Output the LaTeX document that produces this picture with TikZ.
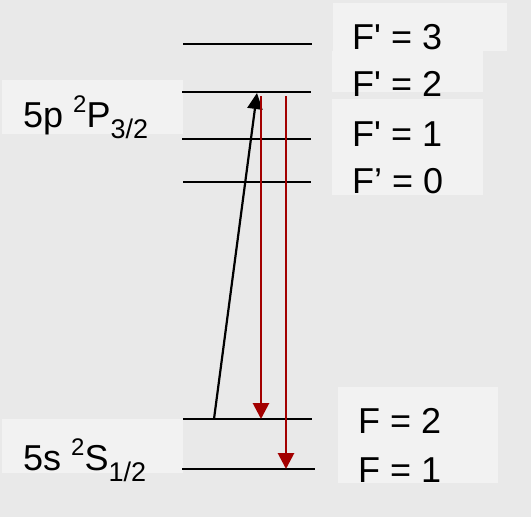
\documentclass[tikz,border=0pt]{standalone}
\usepackage{fontspec}
\newfontfamily\arial{Liberation Sans}
\usetikzlibrary{arrows.meta}
\definecolor{bgray}{RGB}{233,233,233}
\definecolor{boxw}{RGB}{242,242,242}
\definecolor{dred}{RGB}{163,0,0}
\newcommand{\supx}[1]{\raisebox{15pt}{\fontsize{24}{25}\selectfont #1}}
\newcommand{\subx}[1]{\raisebox{-11pt}{\fontsize{27}{28}\selectfont #1}}
\tikzset{
  lbl/.style={anchor=base west, inner sep=0pt, font=\arial\fontsize{36}{40}\selectfont, text=black},
  labelbox/.style={fill=boxw, draw=none},
  level/.style={line width=2.2pt, black},
  pump/.style={line width=2.2pt, black, -{Triangle[width=15pt,length=16pt]}},
  decay/.style={line width=2.8pt, dred, -{Triangle[width=16pt,length=16pt]}}
}
\begin{document}
\begin{tikzpicture}[x=1pt,y=-1pt]
\fill[bgray] (0,0) rectangle (531,517);
\useasboundingbox (0,0) rectangle (531,517);
% label boxes
\fill[labelbox] (333,3) rectangle (507,51);
\fill[labelbox] (332,51) rectangle (483,92);
\fill[labelbox] (332,99) rectangle (483,195);
\fill[labelbox] (2,80) rectangle (183,134);
\fill[labelbox] (2,419) rectangle (183,473);
\fill[labelbox] (338,387) rectangle (498,483);
% level coordinates
\coordinate (p3a) at (183,44);  \coordinate (p3b) at (312,44);
\coordinate (p2a) at (182,92);  \coordinate (p2b) at (311,92);
\coordinate (p1a) at (182,139); \coordinate (p1b) at (311,139);
\coordinate (p0a) at (183,182); \coordinate (p0b) at (311,182);
\coordinate (s2a) at (183,419); \coordinate (s2b) at (312,419);
\coordinate (s1a) at (182,469); \coordinate (s1b) at (315,469);
\draw[level] (p3a) -- (p3b);
\draw[level] (p2a) -- (p2b);
\draw[level] (p1a) -- (p1b);
\draw[level] (p0a) -- (p0b);
\draw[level] (s2a) -- (s2b);
\draw[level] (s1a) -- (s1b);
% transition points
\coordinate (pumpstart) at (214,419);
\coordinate (pumpend) at (257,93);
\coordinate (d1start) at (261,96);
\coordinate (d1end) at (261,419);
\coordinate (d2start) at (286,96);
\coordinate (d2end) at (286,469);
\draw[pump] (pumpstart) -- (pumpend);
\draw[decay] (d1start) -- (d1end);
\draw[decay] (d2start) -- (d2end);
% labels
\node[lbl] (lF3) at (352,49) {F' = 3};
\node[lbl] (lF2) at (352,96) {F' = 2};
\node[lbl] (lF1) at (352,146) {F' = 1};
\node[lbl] (lF0) at (352,193) {F’ = 0};
\node[lbl] (lS2) at (358,433) {F = 2};
\node[lbl] (lS1) at (358,482) {F = 1};
\node[lbl] (l5p) at (23,127) {5p \supx{2}P\subx{3/2}};
\node[lbl] (l5s) at (23,470) {5s \supx{2}S\subx{1/2}};
\end{tikzpicture}
\end{document}
